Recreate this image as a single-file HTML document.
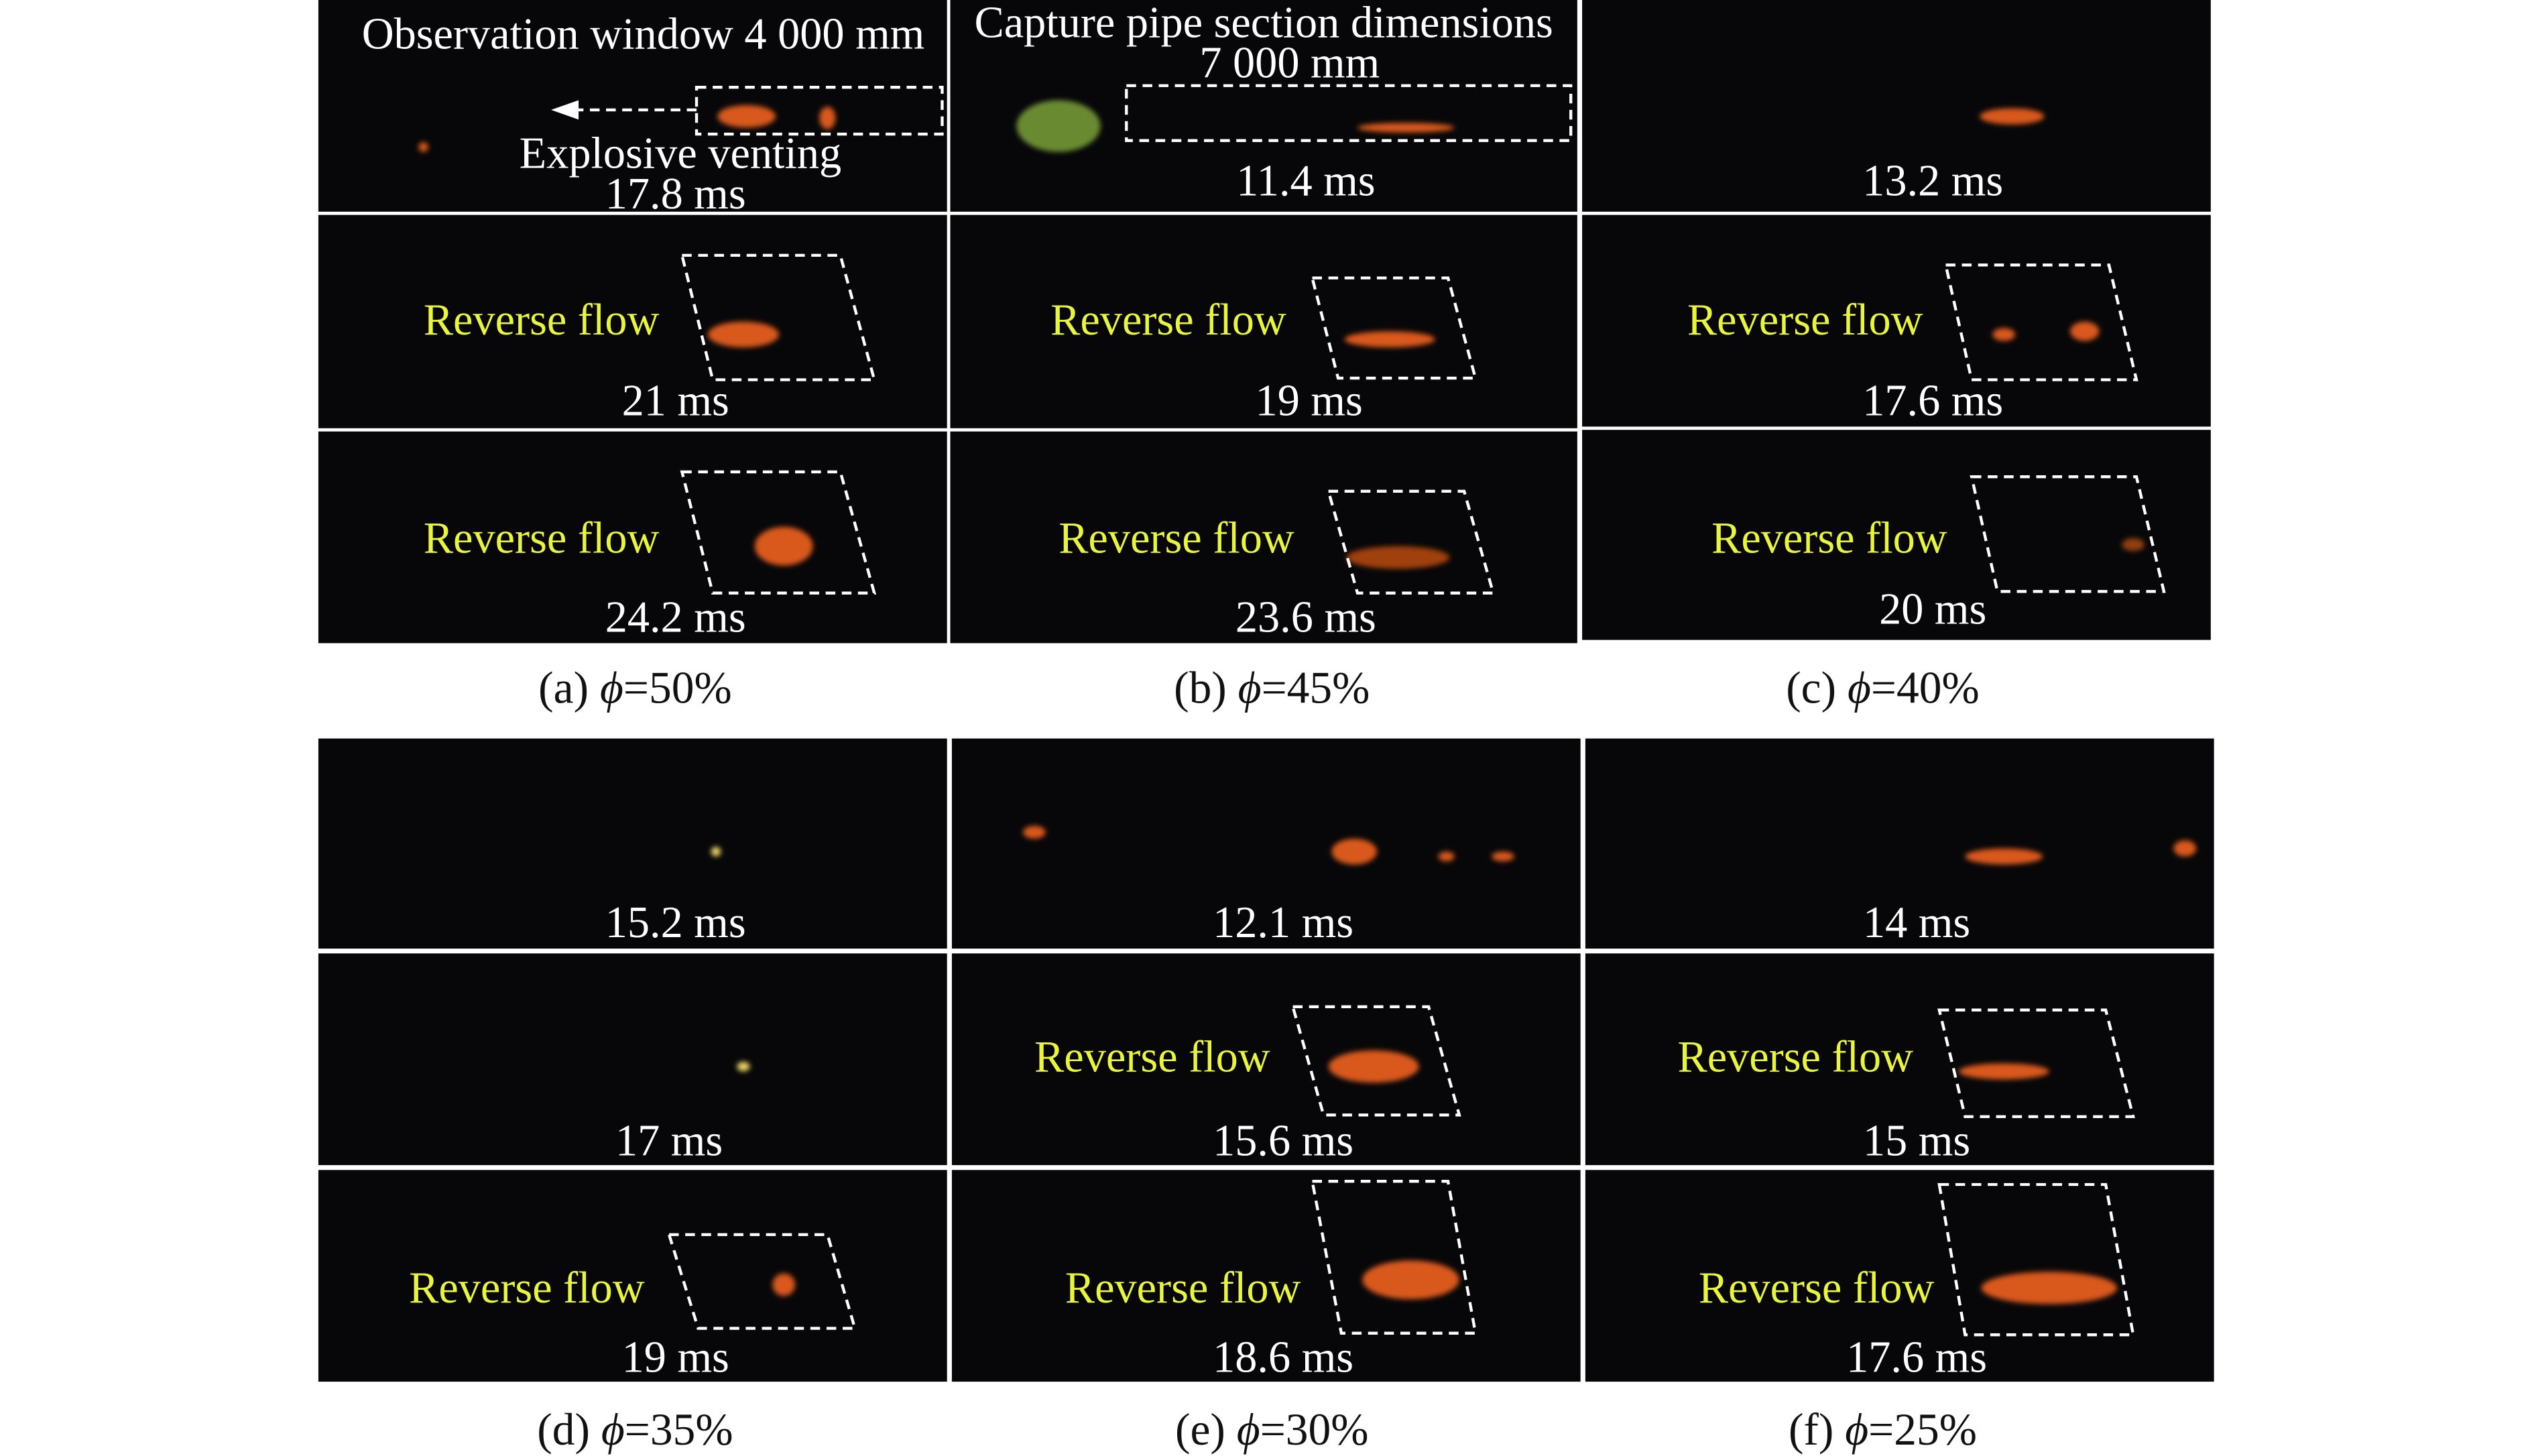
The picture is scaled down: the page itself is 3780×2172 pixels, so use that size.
<!DOCTYPE html>
<html><head><meta charset="utf-8"><style>
html,body{margin:0;padding:0;background:#fff}
svg{display:block}
text{font-family:"Liberation Serif",serif}
.w{fill:#fff;font-size:27.5px}
.y{fill:#e8f53a;font-size:27.5px}
.c{fill:#111;font-size:28px}
.d{fill:none;stroke:#fff;stroke-width:1.8;stroke-dasharray:6,4}
</style></head><body>
<svg width="3780" height="2172" viewBox="0 0 1568 901" xmlns="http://www.w3.org/2000/svg">
<defs><filter id="b"><feGaussianBlur stdDeviation="1.5"/></filter></defs>
<rect width="1568" height="901" fill="#fff"/>
<g fill="#070709">
<rect x="197" y="0" width="389" height="131"/><rect x="588" y="0" width="388" height="131"/><rect x="979" y="0" width="389" height="131"/>
<rect x="197" y="133" width="389" height="132"/><rect x="588" y="133" width="388" height="132"/><rect x="979" y="133" width="389" height="131"/>
<rect x="197" y="267" width="389" height="131"/><rect x="588" y="267" width="388" height="131"/><rect x="979" y="266" width="389" height="130"/>
<rect x="197" y="457" width="389" height="130"/><rect x="589" y="457" width="389" height="130"/><rect x="981" y="457" width="389" height="130"/>
<rect x="197" y="590" width="389" height="131"/><rect x="589" y="590" width="389" height="131"/><rect x="981" y="590" width="389" height="131"/>
<rect x="197" y="724" width="389" height="131"/><rect x="589" y="724" width="389" height="131"/><rect x="981" y="724" width="389" height="131"/>
</g>
<g filter="url(#b)" fill="#d9581a">
<ellipse cx="462" cy="72" rx="18" ry="7"/><ellipse cx="512" cy="73" rx="5" ry="7"/><ellipse cx="262" cy="91" rx="3" ry="3"/>
<ellipse cx="655" cy="78" rx="26" ry="16" fill="#6a8a30"/><ellipse cx="870" cy="79" rx="30" ry="3"/>
<ellipse cx="1245" cy="72" rx="20" ry="5"/>
<ellipse cx="460" cy="207" rx="22" ry="8"/><ellipse cx="860" cy="210" rx="28" ry="5"/><ellipse cx="1240" cy="207" rx="7" ry="4"/><ellipse cx="1290" cy="205" rx="9" ry="6"/>
<ellipse cx="485" cy="338" rx="18" ry="12"/><ellipse cx="865" cy="345" rx="32" ry="7" fill="#a04010"/><ellipse cx="1320" cy="337" rx="7" ry="4" fill="#904010"/>
<ellipse cx="443" cy="527" rx="3" ry="3" fill="#e8d060"/><ellipse cx="640" cy="515" rx="7" ry="4"/><ellipse cx="838" cy="527" rx="14" ry="8"/><ellipse cx="895" cy="530" rx="5" ry="3"/><ellipse cx="930" cy="530" rx="7" ry="3"/>
<ellipse cx="1240" cy="530" rx="24" ry="5"/><ellipse cx="1352" cy="525" rx="7" ry="5"/>
<ellipse cx="460" cy="660" rx="4" ry="3" fill="#e8d060"/><ellipse cx="850" cy="660" rx="28" ry="10"/><ellipse cx="1240" cy="663" rx="28" ry="5"/>
<ellipse cx="485" cy="795" rx="7" ry="7"/><ellipse cx="873" cy="792" rx="30" ry="12"/><ellipse cx="1268" cy="797" rx="42" ry="10"/>
</g>
<rect x="431" y="54" width="152" height="29" class="d"/>
<path d="M431 68 H356" class="d"/><path d="M341 68 L358 62 L358 74 Z" fill="#fff"/>
<rect x="697" y="53" width="275" height="34" class="d"/>
<path class="d" d="M422 158 H520 L541 235 H441 Z"/>
<path class="d" d="M812 172 H896 L913 234 H828 Z"/>
<path class="d" d="M1204 164 H1305 L1322 235 H1220 Z"/>
<path class="d" d="M422 292 H520 L541 367 H441 Z"/>
<path class="d" d="M822 304 H906 L924 367 H840 Z"/>
<path class="d" d="M1220 295 H1322 L1339 366 H1236 Z"/>
<path class="d" d="M414 764 H512 L529 822 H432 Z"/>
<path class="d" d="M800 623 H884 L903 690 H819 Z"/>
<path class="d" d="M812 731 H896 L913 825 H830 Z"/>
<path class="d" d="M1200 625 H1303 L1320 691 H1216 Z"/>
<path class="d" d="M1200 733 H1303 L1320 826 H1216 Z"/>
<g class="w" text-anchor="middle">
<text x="398" y="30">Observation window 4 000 mm</text>
<text x="421" y="104">Explosive venting</text>
<text x="418" y="129">17.8 ms</text>
<text x="782" y="23">Capture pipe section dimensions</text>
<text x="798" y="48">7 000 mm</text>
<text x="808" y="121">11.4 ms</text>
<text x="1196" y="121">13.2 ms</text>
<text x="418" y="257">21 ms</text><text x="810" y="257">19 ms</text><text x="1196" y="257">17.6 ms</text>
<text x="418" y="391">24.2 ms</text><text x="808" y="391">23.6 ms</text><text x="1196" y="386">20 ms</text>
<text x="418" y="580">15.2 ms</text><text x="794" y="580">12.1 ms</text><text x="1186" y="580">14 ms</text>
<text x="414" y="715">17 ms</text><text x="794" y="715">15.6 ms</text><text x="1186" y="715">15 ms</text>
<text x="418" y="849">19 ms</text><text x="794" y="849">18.6 ms</text><text x="1186" y="849">17.6 ms</text>
</g>
<g class="y" text-anchor="middle">
<text x="335" y="207">Reverse flow</text><text x="723" y="207">Reverse flow</text><text x="1117" y="207">Reverse flow</text>
<text x="335" y="342">Reverse flow</text><text x="728" y="342">Reverse flow</text><text x="1132" y="342">Reverse flow</text>
<text x="713" y="663">Reverse flow</text><text x="1111" y="663">Reverse flow</text>
<text x="326" y="806">Reverse flow</text><text x="732" y="806">Reverse flow</text><text x="1124" y="806">Reverse flow</text>
</g>
<g class="c" text-anchor="middle">
<text x="393" y="435">(a) <tspan font-style="italic">ϕ</tspan>=50%</text>
<text x="787" y="435">(b) <tspan font-style="italic">ϕ</tspan>=45%</text>
<text x="1165" y="435">(c) <tspan font-style="italic">ϕ</tspan>=40%</text>
<text x="393" y="894">(d) <tspan font-style="italic">ϕ</tspan>=35%</text>
<text x="787" y="894">(e) <tspan font-style="italic">ϕ</tspan>=30%</text>
<text x="1165" y="894">(f) <tspan font-style="italic">ϕ</tspan>=25%</text>
</g>
</svg>
</body></html>
